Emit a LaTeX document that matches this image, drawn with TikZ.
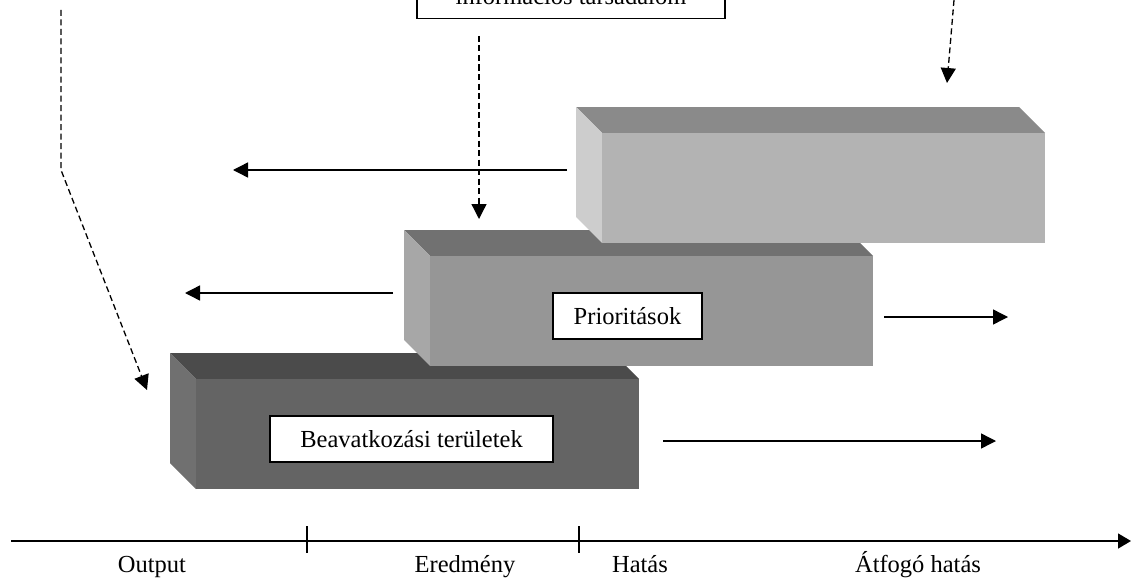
\documentclass[tikz,border=0pt]{standalone}
\usepackage{fontspec}
\setmainfont{Liberation Serif}
\usetikzlibrary{arrows.meta}
\definecolor{fA}{HTML}{B3B3B3}\definecolor{tA}{HTML}{8A8A8A}\definecolor{sA}{HTML}{CDCDCD}
\definecolor{fB}{HTML}{969696}\definecolor{tB}{HTML}{717171}\definecolor{sB}{HTML}{A7A7A7}
\definecolor{fC}{HTML}{646464}\definecolor{tC}{HTML}{4B4B4B}\definecolor{sC}{HTML}{707070}
\newcommand\slabbox[5]{%
  \fill[#4] (#1,#2) -- ++(443,0) -- ++(26,26) -- ++(-443,0) -- cycle;
  \fill[#5] (#1,#2) -- ++(26,26) -- ++(0,110) -- ++(-26,-26) -- cycle;
  \fill[#3] (#1+26,#2+26) rectangle ++(443,110);
}
\tikzset{
  lbl/.style={draw=black, fill=white, line width=1.3pt, minimum height=46pt, inner sep=0pt, font=\fontsize{24.5}{28}\selectfont},
  arr/.style={line width=1.4pt, -{Triangle[length=15pt,width=15pt]}},
  darr/.style={line width=1.3pt, dash pattern=on 6pt off 3.5pt, -{Triangle[length=15pt,width=15pt]}},
  axlbl/.style={anchor=base, font=\fontsize{24.5}{28}\selectfont},
}
\begin{document}
\begin{tikzpicture}[x=1pt,y=-1pt]
\useasboundingbox (0,0) rectangle (1145,578);
\clip (0,0) rectangle (1145,578);
% 3D slabs
\slabbox{170}{353}{fC}{tC}{sC}
\slabbox{404}{230}{fB}{tB}{sB}
\slabbox{576}{107}{fA}{tA}{sA}
% top text box (clipped at top)
\node[draw=black, line width=1.3pt, minimum width=308pt, minimum height=70pt, anchor=south, inner sep=0pt] (tbox) at (571,19) {};
\node[axlbl] (ttext) at (571,5) {információs társadalom};
% labels
\node[lbl, minimum width=149pt] (prio) at (627.5,316) {Prioritások};
\node[lbl, minimum width=283pt] (beav) at (411.5,439) {Beavatkozási területek};
% solid arrows
\coordinate (a1s) at (567,170); \coordinate (a1e) at (233,170);
\coordinate (a2s) at (393,293); \coordinate (a2e) at (185,293);
\coordinate (a3s) at (884,317); \coordinate (a3e) at (1008,317);
\coordinate (a4s) at (663,441); \coordinate (a4e) at (996,441);
\draw[arr] (a1s) -- (a1e);
\draw[arr] (a2s) -- (a2e);
\draw[arr] (a3s) -- (a3e);
\draw[arr] (a4s) -- (a4e);
% dashed arrows
\coordinate (d1s) at (61,10); \coordinate (d1m) at (61,170); \coordinate (d1e) at (147,390);
\coordinate (d2s) at (479,36); \coordinate (d2e) at (479,219);
\coordinate (d3s) at (954,0); \coordinate (d3e) at (947,83);
\draw[darr] (d1s) -- (d1m) -- (d1e);
\draw[darr] (d2s) -- (d2e);
\draw[darr] (d3s) -- (d3e);
% time axis
\coordinate (ax0) at (11,541); \coordinate (ax1) at (1131,541);
\draw[line width=1.4pt, -{Triangle[length=13pt,width=15pt]}] (ax0) -- (ax1);
\coordinate (t1a) at (307,526); \coordinate (t1b) at (307,553);
\coordinate (t2a) at (579,526); \coordinate (t2b) at (579,553);
\draw[line width=1.2pt] (t1a) -- (t1b);
\draw[line width=1.2pt] (t2a) -- (t2b);
\node[axlbl] (l1) at (152,572) {Output};
\node[axlbl] (l2) at (465,572) {Eredmény};
\node[axlbl] (l3) at (640,572) {Hatás};
\node[axlbl] (l4) at (918,572) {Átfogó hatás};
\end{tikzpicture}
\end{document}
